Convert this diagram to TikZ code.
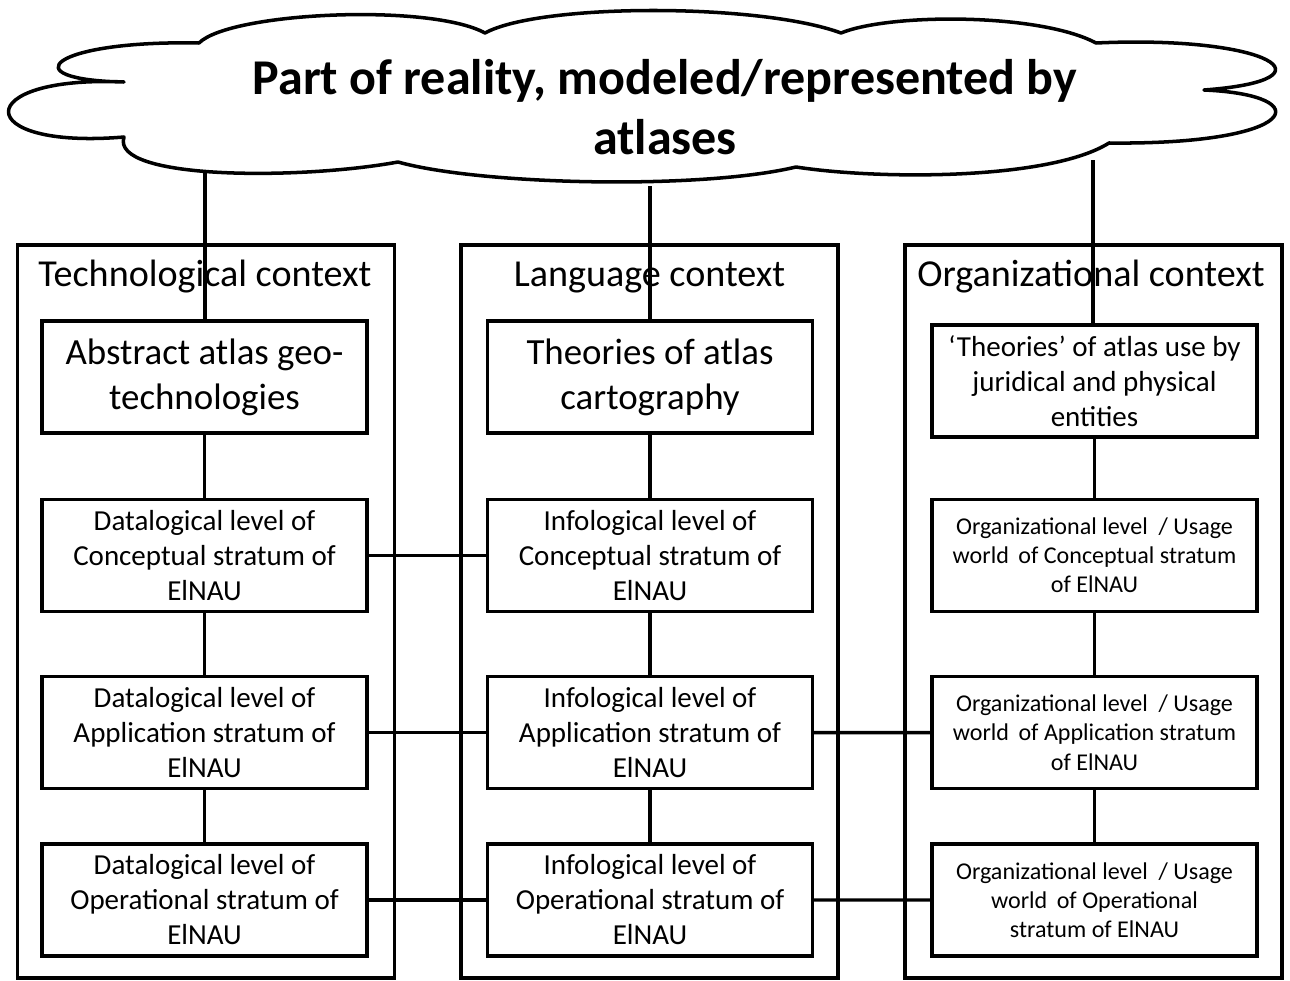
\documentclass[tikz,border=0pt]{standalone}
\usepackage{fontspec}
\setmainfont{Carlito}
\usetikzlibrary{positioning}
\tikzset{
  frame/.style={draw, line width=1.9pt, minimum width=7.54cm, minimum height=14.66cm, inner sep=0pt},
  ctxtitle/.style={font=\fontsize{21.7}{26}\selectfont, inner sep=0pt, anchor=base},
  cell/.style={draw, line width=1.9pt, minimum width=6.5cm, minimum height=2.24cm,
               align=center, inner sep=2pt, fill=white},
  bigtxt/.style={cell, font=\fontsize{21}{25.6}\selectfont},
  midtxt/.style={cell, font=\fontsize{16.5}{19.9}\selectfont},
  smalltxt/.style={cell, font=\fontsize{13.7}{16.6}\selectfont},
  link/.style={line width=1.9pt},
  cloudline/.style={line width=2pt, line join=round},
}
\begin{document}
\begin{tikzpicture}[x=0.02cm, y=-0.02cm, node distance=1.26cm]
\useasboundingbox (0,0) rectangle (1290,980);

%% cloud
\draw[cloudline] (124,82) .. controls (10,80) and (50,40) .. (199,43)
  .. controls (230,12) and (430,3) .. (485,33)
  .. controls (540,3) and (760,3) .. (841,33)
  .. controls (890,13) and (1040,13) .. (1096,43)
  .. controls (1270,35) and (1340,80) .. (1204,90)
  .. controls (1320,95) and (1300,145) .. (1109,143)
  .. controls (1050,180) and (880,180) .. (796,167)
  .. controls (700,190) and (480,185) .. (398,162)
  .. controls (300,180) and (110,180) .. (124,137)
  .. controls (-30,150) and (-30,75) .. (124,82) -- cycle;
\node[font=\fontsize{28.5}{34}\selectfont\bfseries, align=center] (reality) at (665,107)
  {Part of reality, modeled/represented by\\atlases};
\coordinate (cl_tech) at (205,173);
\coordinate (cl_lang) at (650,186);
\coordinate (cl_org)  at (1093,160);

%% contexts
\node[frame] (tech) at (206,611.5) {};
\node[frame] (lang) at (649.5,611.5) {};
\node[frame] (org)  at (1093.5,611.5) {};
\node[ctxtitle] (tech_title) at (205,286) {Technological context};
\node[ctxtitle] (lang_title) at (649.5,286) {Language context};
\node[ctxtitle] (org_title)  at (1091,286) {Organizational context};

%% technological column
\node[bigtxt] (t_top) at (204.5,377) {Abstract atlas geo-\\technologies};
\node[midtxt, below=of t_top] (t_con) {Datalogical level of\\Conceptual stratum of\\ElNAU};
\node[midtxt, below=1.24cm of t_con] (t_app) {Datalogical level of\\Application stratum of\\ElNAU};
\node[midtxt, below=1.04cm of t_app] (t_op) {Datalogical level of\\Operational stratum of\\ElNAU};

%% language column
\node[bigtxt] (l_top) at (650,377) {Theories of atlas\\cartography};
\node[midtxt, below=of l_top] (l_con) {Infological level of\\Conceptual stratum of\\ElNAU};
\node[midtxt, below=1.24cm of l_con] (l_app) {Infological level of\\Application stratum of\\ElNAU};
\node[midtxt, below=1.04cm of l_app] (l_op) {Infological level of\\Operational stratum of\\ElNAU};

%% organizational column
\node[midtxt] (o_top) at (1094.5,381) {‘Theories’ of atlas use by\\juridical and physical\\entities};
\node[smalltxt, below=1.18cm of o_top] (o_con) {Organizational level \ / Usage\\world \,of Conceptual stratum\\of ElNAU};
\node[smalltxt, below=1.24cm of o_con] (o_app) {Organizational level \ / Usage\\world \,of Application stratum\\of ElNAU};
\node[smalltxt, below=1.04cm of o_app] (o_op) {Organizational level \ / Usage\\world \,of Operational\\stratum of ElNAU};

%% links from the cloud
\draw[link] (cl_tech) -- (cl_tech |- t_top.north);
\draw[link] (cl_lang) -- (cl_lang |- l_top.north);
\draw[link] (cl_org)  -- (cl_org |- o_top.north);

%% links inside columns
\draw[link] (t_top) -- (t_con);
\draw[link] (t_con) -- (t_app);
\draw[link] (t_app) -- (t_op);
\draw[link] (l_top) -- (l_con);
\draw[link] (l_con) -- (l_app);
\draw[link] (l_app) -- (l_op);
\draw[link] (o_top) -- (o_con);
\draw[link] (o_con) -- (o_app);
\draw[link] (o_app) -- (o_op);

%% links across columns
\draw[link] (t_con) -- (l_con);
\draw[link] (t_app) -- (l_app);
\draw[link] (l_app) -- (o_app);
\draw[link] (t_op)  -- (l_op);
\draw[link] (l_op)  -- (o_op);

\end{tikzpicture}
\end{document}
